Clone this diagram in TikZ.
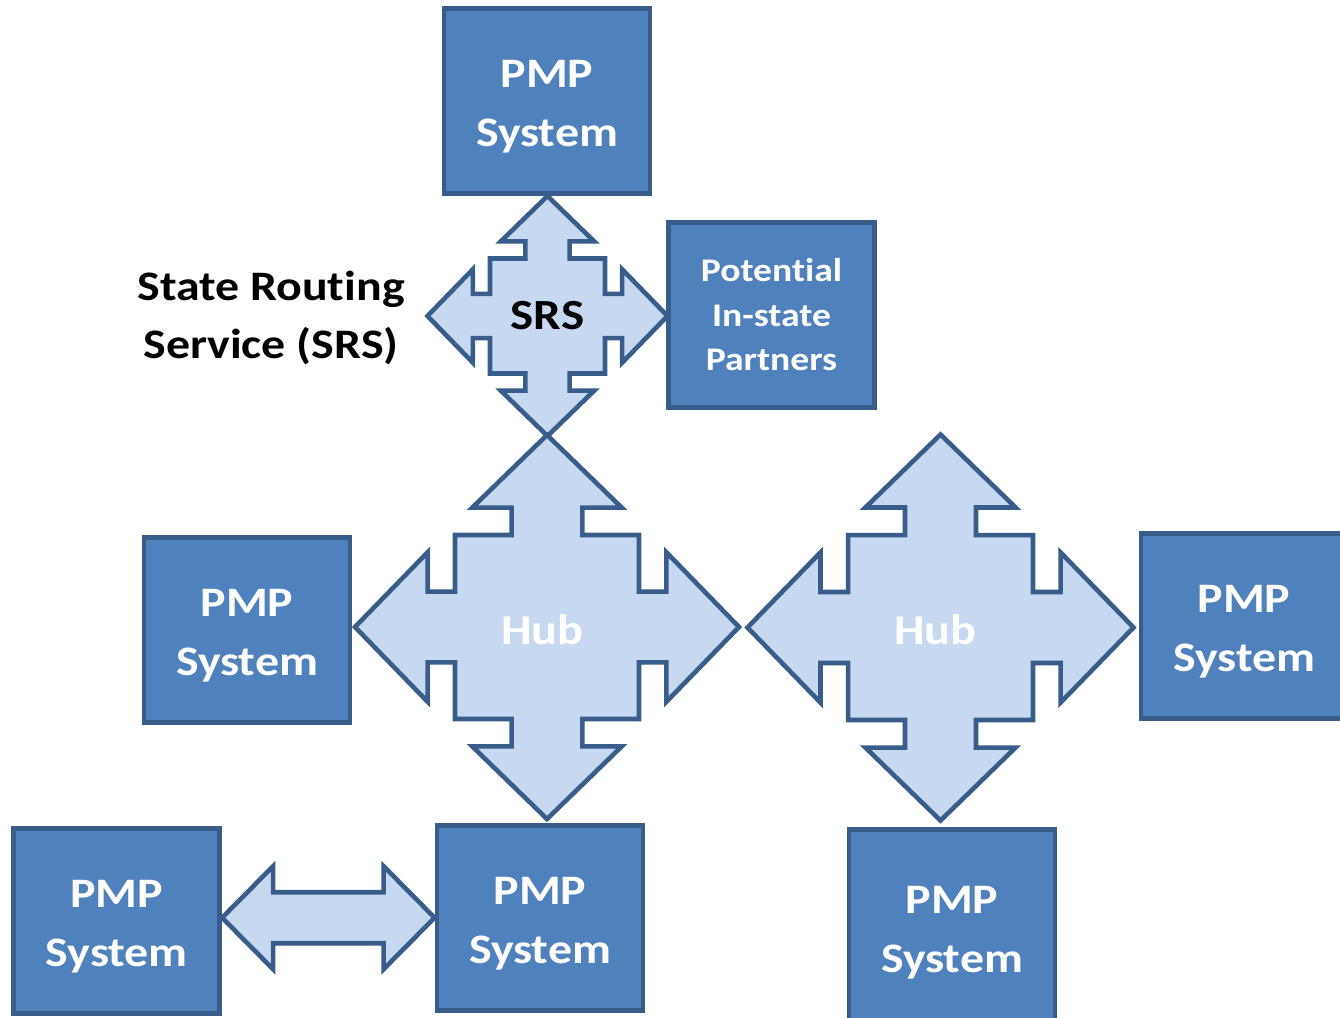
\documentclass[tikz,border=0pt]{standalone}
\usepackage{fontspec}
\setmainfont{Carlito}[Ligatures=CommonOff, FakeStretch=1.14]
\usetikzlibrary{calc}
\definecolor{boxfill}{HTML}{4F81BD}
\definecolor{boxline}{HTML}{385D8A}
\definecolor{arrfill}{HTML}{C6D9F1}
\pgfdeclarelayer{bg}
\pgfsetlayers{bg,main}
\tikzset{
  pmpbox/.style={draw=boxline, fill=boxfill, line width=4.8pt, minimum width=206pt,
    minimum height=185pt, inner sep=0pt, text=white, align=center,
    font=\bfseries\fontsize{42}{59}\selectfont},
  partbox/.style={pmpbox, font=\bfseries\fontsize{33}{44.5}\selectfont},
  arrowshape/.style={draw=boxline, fill=arrfill, line width=4.6pt, line join=miter},
  hubtext/.style={text=white, font=\bfseries\fontsize{42.5}{50}\selectfont},
  srstext/.style={text=black, font=\bfseries\fontsize{43}{50}\selectfont},
  sidetext/.style={text=black, align=center, font=\bfseries\fontsize{42}{58}\selectfont},
}
\newcommand\pmptext{\rule{0pt}{39pt}PMP\\System}
% four-way arrow: centre x, centre y, tip distance, name
\newcommand\fourway[4]{%
  \coordinate (#4) at (#1,#2);
  \draw[arrowshape, shift={(#4)}, scale=#3]
    (0,-1) -- (0.389,-0.622) -- (0.184,-0.622) -- (0.184,-0.479) -- (0.479,-0.479)
    -- (0.479,-0.184) -- (0.622,-0.184) -- (0.622,-0.389) -- (1,0)
    -- (0.622,0.389) -- (0.622,0.184) -- (0.479,0.184) -- (0.479,0.479)
    -- (0.184,0.479) -- (0.184,0.622) -- (0.389,0.622) -- (0,1)
    -- (-0.389,0.622) -- (-0.184,0.622) -- (-0.184,0.479) -- (-0.479,0.479)
    -- (-0.479,0.184) -- (-0.622,0.184) -- (-0.622,0.389) -- (-1,0)
    -- (-0.622,-0.389) -- (-0.622,-0.184) -- (-0.479,-0.184) -- (-0.479,-0.479)
    -- (-0.184,-0.479) -- (-0.184,-0.622) -- (-0.389,-0.622) -- cycle;}
\begin{document}
\begin{tikzpicture}[x=1pt, y=-1pt]
\useasboundingbox (0,0) rectangle (1340,1017);

% boxes
\node[pmpbox] (top) at (547,101) {\pmptext};
\node[partbox] (partners) at (771.5,314.7) {Potential\\In-state\\Partners};
\node[pmpbox] (midleft) at (247,629.7) {\pmptext};
\node[pmpbox] (right) at (1244,626) {\pmptext};
\node[pmpbox] (botleft) at (116.7,920.7) {\pmptext};
\node[pmpbox] (botmid) at (540,917.7) {\pmptext};
\node[pmpbox, minimum height=195pt] (botright) at (952,927) {\pmptext};

% arrows on background layer
\begin{pgfonlayer}{bg}
\fourway{547.5}{316}{120}{srs}
\fourway{547}{627}{192}{hubA}
\fourway{940.5}{627.5}{193}{hubB}
\draw[arrowshape] (botleft.east |- botmid.west) -- ++(51,-51.5) -- ++(0,26)
  -- ($(botmid.west)+(-51,-25.5)$) -- ++(0,-26) -- (botmid.west)
  -- ++(-51,51.5) -- ++(0,-26)
  -- ($(botleft.east |- botmid.west)+(51,25.5)$) -- ++(0,26) -- cycle;
\end{pgfonlayer}

% labels
\node[srstext] (srslabel) at (547.5,316) {SRS};
\node[hubtext] (hubAlabel) at (542.5,630) {Hub};
\node[hubtext] (hubBlabel) at (935.5,630) {Hub};
\node[sidetext] (srsname) at (271,318) {State Routing\\Service (SRS)};
\end{tikzpicture}
\end{document}
